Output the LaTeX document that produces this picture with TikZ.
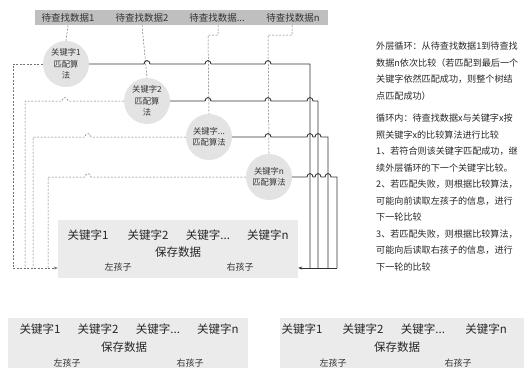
\documentclass[tikz,border=0pt]{standalone}
\usepackage{fontspec}
\setmainfont{Noto Sans CJK SC}
\usetikzlibrary{arrows.meta}
\begin{document}
\begin{tikzpicture}[x=1pt,y=-1pt,
  solidln/.style={draw=black!80,line width=0.9pt},
  dashln/.style={draw=black!55,line width=0.5pt,dash pattern=on 2pt off 1.5pt},
  hopr/.style args={#1/#2}{insert path={-- (#1-3,#2) .. controls +(0,-4.5) and +(0,-4.5) .. (#1+3,#2)}},
  hopl/.style args={#1/#2}{insert path={-- (#1+3,#2) .. controls +(0,-4.5) and +(0,-4.5) .. (#1-3,#2)}},
  circ/.style={circle,fill=gray!22,minimum size=46pt,inner sep=0pt,align=center,text=black!80,font=\fontsize{8.3}{11.5}\selectfont},
  bartxt/.style={inner sep=1pt,text=black!80,font=\fontsize{9.5}{11}\selectfont},
  keytxt/.style={inner sep=1pt,text=black!85,font=\fontsize{11.5}{13}\selectfont},
  childtxt/.style={inner sep=1pt,text=black!80,font=\fontsize{9}{11}\selectfont},
  plainbox/.style={fill=gray!16,inner sep=0pt},
  note/.style={anchor=north west,inner sep=0pt,align=left,text=black!85,font=\fontsize{9.1}{16.5}\selectfont},
  tip/.style={-{Stealth[length=4pt,width=3pt]}}
]
\useasboundingbox (0,0) rectangle (529,367);

% top bar
\node[fill=gray!50,inner sep=0pt,minimum width=293pt,minimum height=15pt] (bar) at (181.5,17.5) {};
\node[bartxt] (d1) at (68,17.5) {待查找数据1};
\node[bartxt] (d2) at (142,17.5) {待查找数据2};
\node[bartxt] (d3) at (217,17.5) {待查找数据...};
\node[bartxt] (d4) at (293,17.5) {待查找数据n};

% circles
\node[circ] (c1) at (66,64) {关键字1\\匹配算\\法};
\node[circ] (c2) at (147,101) {关键字2\\匹配算\\法};
\node[circ] (c3) at (209,137) {关键字...\\匹配算法};
\node[circ] (c4) at (269,177) {关键字n\\匹配算法};

% main box
\node[plainbox,minimum width=240pt,minimum height=58pt] (mb) at (178,249) {};
\node[keytxt] (k1) at (88,235) {关键字1};
\node[keytxt] (k2) at (148,235) {关键字2};
\node[keytxt] (k3) at (208,235) {关键字...};
\node[keytxt] (k4) at (268,235) {关键字n};
\node[keytxt] (sv) at (178,252) {保存数据};
\node[childtxt] (lc) at (118,267) {左孩子};
\node[childtxt] (rc) at (240,267) {右孩子};

% bottom left box
\node[plainbox,minimum width=240pt,minimum height=50pt] (bl) at (128,343) {};
\node[keytxt] (bl1) at (40,329) {关键字1};
\node[keytxt] (bl2) at (98,329) {关键字2};
\node[keytxt] (bl3) at (158,329) {关键字...};
\node[keytxt] (bl4) at (218,329) {关键字n};
\node[keytxt] (blsv) at (124,347) {保存数据};
\node[childtxt] (bllc) at (67,363) {左孩子};
\node[childtxt] (blrc) at (190,363) {右孩子};

% bottom right box
\node[plainbox,minimum width=244pt,minimum height=50pt] (br) at (402,343) {};
\node[keytxt] (br1) at (302,329) {关键字1};
\node[keytxt] (br2) at (363,329) {关键字2};
\node[keytxt] (br3) at (423,329) {关键字...};
\node[keytxt] (br4) at (486,329) {关键字n};
\node[keytxt] (brsv) at (397,347) {保存数据};
\node[childtxt] (brlc) at (333,363) {左孩子};
\node[childtxt] (brrc) at (458,363) {右孩子};

% data dashed lines
\draw[dashln] (d1 |- bar.south) -- (c1.north);
\draw[dashln] (d2 |- bar.south) -- (c2.north);
\draw[dashln] (218,25) -- (218,35) -- (208,35) -- (c3.north);
\draw[dashln] (292,25) -- (292,35) -- (268,35) -- (c4.north);

% right solid connectors
\coordinate (rb) at (337,268);
\draw[solidln] (c1.east) [hopr=147/64] [hopr=208/64] [hopr=268/64] -- (310,64) -- (310,268);
\draw[solidln] (c2.east) [hopr=208/101] [hopr=268/101] [hopr=310/101] -- (318,101) -- (318,268);
\draw[solidln] (c3.east) [hopr=268/137] [hopr=310/137] [hopr=318/137] -- (328,137) -- (328,268);
\draw[solidln] (c4.east) [hopr=310/177] [hopr=318/177] [hopr=328/177] -- (337,177) -- (rb);
\draw[solidln,tip] (rb) -- (rb -| mb.east);

% left dashed connectors
\coordinate (lb) at (13,268);
\draw[dashln] (c1.west) -- (13,64) -- (lb);
\draw[dashln] (c2.west) [hopl=65/101] -- (25,101) -- (25,268);
\draw[dashln] (c3.west) [hopl=88/137] -- (33,137) -- (33,268);
\draw[dashln] (c4.west) [hopl=88/177] -- (48,177) -- (48,268);
\draw[dashln,tip] (lb) -- (lb -| mb.west);

% notes
\node[note] (n1) at (376,42) {外层循环：从待查找数据1到待查找\\数据n依次比较（若匹配到最后一个\\关键字依然匹配成功，则整个树结\\点匹配成功）};
\node[note] (n2) at (376,114) {循环内：待查找数据x与关键字x按\\照关键字x的比较算法进行比较\\1、若符合则该关键字匹配成功，继\\续外层循环的下一个关键字比较。\\2、若匹配失败，则根据比较算法，\\可能向前读取左孩子的信息，进行\\下一轮比较\\3、若匹配失败，则根据比较算法，\\可能向后读取右孩子的信息，进行\\下一轮的比较};
\end{tikzpicture}
\end{document}
